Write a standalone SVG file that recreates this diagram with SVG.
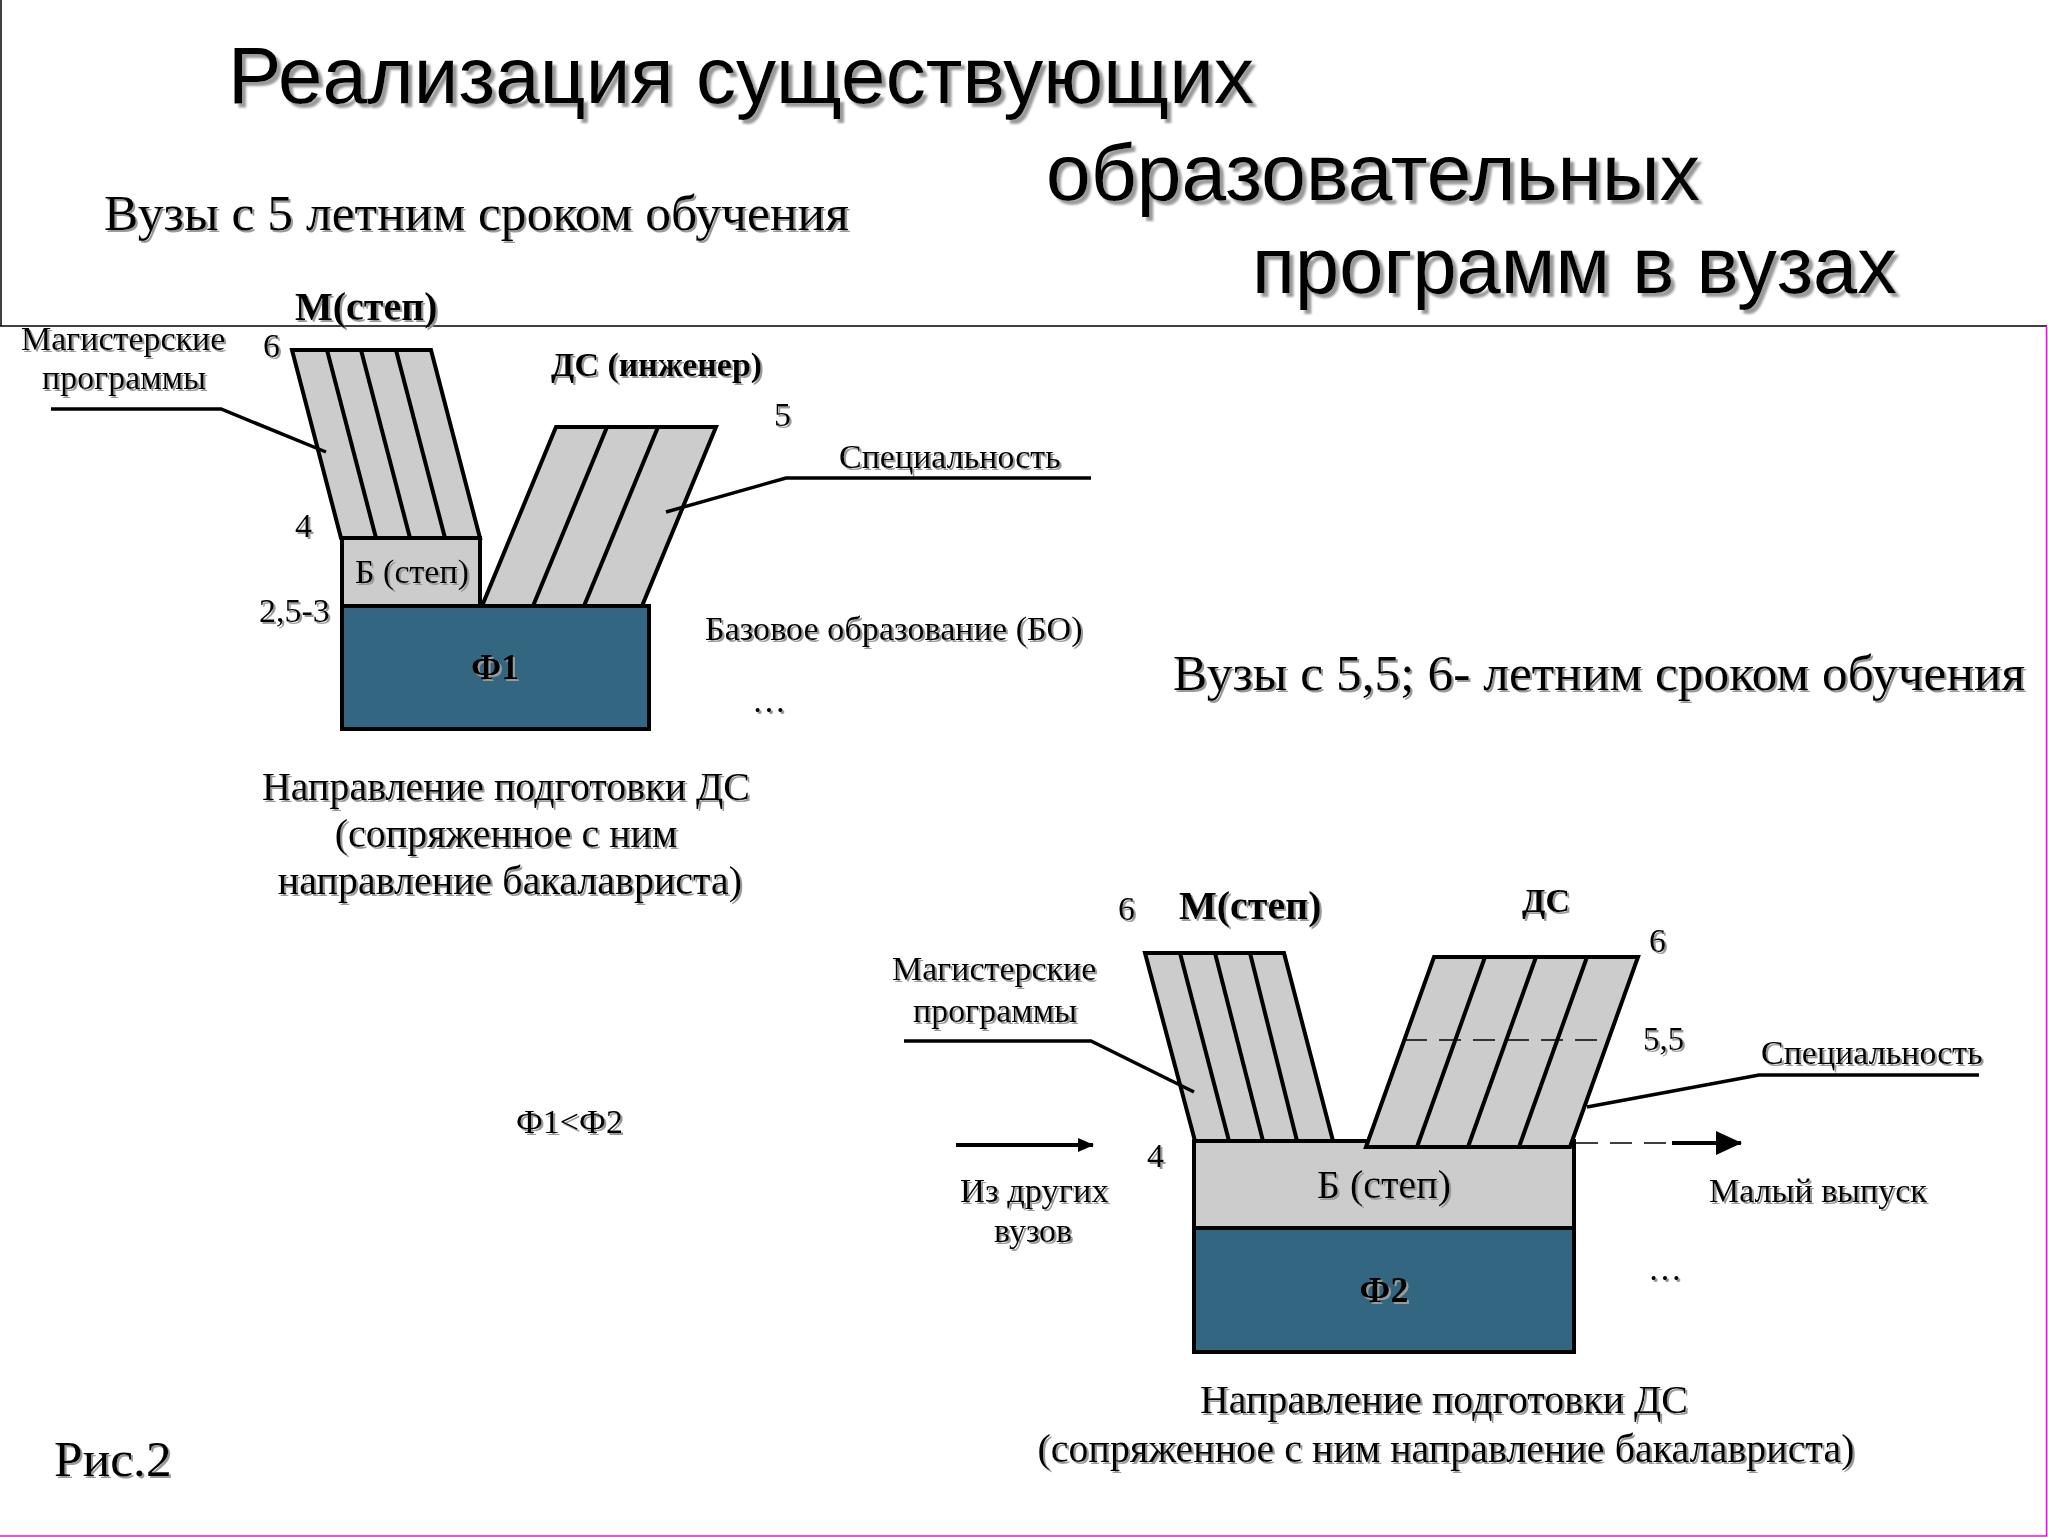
<svg xmlns="http://www.w3.org/2000/svg" width="2048" height="1537" viewBox="0 0 2048 1537">
<defs>
<filter id="sh" x="-5%" y="-20%" width="115%" height="150%">
<feDropShadow dx="2" dy="2" stdDeviation="0.6" flood-color="#9a9a9a" flood-opacity="1"/>
</filter>
<filter id="shT" x="-5%" y="-20%" width="115%" height="150%">
<feDropShadow dx="4" dy="4" stdDeviation="0.8" flood-color="#9a9a9a" flood-opacity="1"/>
</filter>
<marker id="ahS" viewBox="0 0 16 14" refX="15" refY="7" markerWidth="16" markerHeight="14" markerUnits="userSpaceOnUse" orient="auto">
<path d="M0,0 L16,7 L0,14 Z" fill="#000"/>
</marker>
<marker id="ahL" viewBox="0 0 26 24" refX="25" refY="12" markerWidth="26" markerHeight="24" markerUnits="userSpaceOnUse" orient="auto">
<path d="M0,0 L26,12 L0,24 Z" fill="#000"/>
</marker>
</defs>
<style>
.bar{fill:#cccccc;stroke:#000;stroke-width:4;stroke-linejoin:miter}
.base{fill:#336680;stroke:#000;stroke-width:4}
.div{stroke:#000;stroke-width:4;fill:none}
.lead{stroke:#000;stroke-width:3.5;fill:none}
.dash{stroke:#000;stroke-width:1.6;fill:none;stroke-dasharray:22 12}
.t{font-family:"Liberation Serif","Times New Roman",serif;fill:#000;filter:url(#sh)}
.b{font-weight:bold}
.title{font-family:"Liberation Sans",Arial,sans-serif;font-size:80px;fill:#000;filter:url(#shT)}
</style>
<rect x="0" y="0" width="2048" height="1537" fill="#fff"/>

<g id="frame">
<line x1="1" y1="0" x2="1" y2="326" stroke="#000" stroke-width="1.5"/>
<line x1="0" y1="326" x2="2047" y2="326" stroke="#000" stroke-width="1.5"/>
<line x1="2046.5" y1="326" x2="2046.5" y2="1536" stroke="#ff00ff" stroke-width="1.5"/>
<line x1="0" y1="1536" x2="2047" y2="1536" stroke="#ff00ff" stroke-width="1.5"/>
</g>

<g id="title">
<text class="title" x="228" y="103" textLength="1026" lengthAdjust="spacingAndGlyphs">Реализация существующих</text>
<text class="title" x="1046" y="200" textLength="654" lengthAdjust="spacingAndGlyphs">образовательных</text>
<text class="title" x="1252" y="293" textLength="645" lengthAdjust="spacingAndGlyphs">программ в вузах</text>
</g>

<g id="subtitle-left"><text class="t" x="104" y="230" font-size="51.6">Вузы с 5 летним сроком обучения</text></g>
<g id="subtitle-right"><text class="t" x="1173" y="690" font-size="51.5">Вузы с 5,5; 6- летним сроком обучения</text></g>

<!-- Left diagram -->
<g id="L-master">
<polygon class="bar" points="292,350 431,350 480,538 341,538"/>
<line class="div" x1="327" y1="350" x2="376" y2="538"/>
<line class="div" x1="361" y1="350" x2="410" y2="538"/>
<line class="div" x1="396" y1="350" x2="445" y2="538"/>
</g>
<g id="L-bach">
<rect class="bar" x="342" y="538" width="138" height="68"/>
<text class="t" x="412" y="583" font-size="34" text-anchor="middle">Б (степ)</text>
</g>
<g id="L-ds">
<polygon class="bar" points="482,606 556,427 716,427 642,606"/>
<line class="div" x1="607" y1="427" x2="533" y2="606"/>
<line class="div" x1="658" y1="427" x2="584" y2="606"/>
</g>
<g id="L-base">
<rect class="base" x="342" y="606" width="307" height="123"/>
<text class="t b" x="495" y="679" font-size="35" text-anchor="middle">Ф1</text>
</g>
<g id="L-labels">
<text class="t b" x="295" y="320" font-size="40">М(степ)</text>
<text class="t" x="21" y="350" font-size="34">Магистерские</text>
<text class="t" x="42" y="389" font-size="34">программы</text>
<text class="t" x="263" y="357" font-size="34">6</text>
<text class="t b" x="551" y="376" font-size="34">ДС (инженер)</text>
<text class="t" x="774" y="426" font-size="34">5</text>
<text class="t" x="839" y="468" font-size="34">Специальность</text>
<text class="t" x="295" y="537" font-size="34">4</text>
<text class="t" x="259" y="622" font-size="34">2,5-3</text>
<text class="t" x="705" y="640" font-size="34.2">Базовое образование (БО)</text>
<text class="t" x="752" y="712" font-size="34">…</text>
<text class="t" x="506" y="800" font-size="40" text-anchor="middle">Направление подготовки ДС</text>
<text class="t" x="506" y="847" font-size="40" text-anchor="middle">(сопряженное с ним</text>
<text class="t" x="510" y="894" font-size="40" text-anchor="middle">направление бакалавриста)</text>
</g>

<g id="compare"><text class="t" x="516" y="1133" font-size="34">Ф1&lt;Ф2</text></g>
<g id="fig"><text class="t" x="54" y="1476" font-size="51.5">Рис.2</text></g>

<!-- Right diagram -->
<g id="R-master">
<polygon class="bar" points="1145,953 1284,953 1333,1141 1195,1141"/>
<line class="div" x1="1180" y1="953" x2="1229" y2="1141"/>
<line class="div" x1="1215" y1="953" x2="1263" y2="1141"/>
<line class="div" x1="1250" y1="953" x2="1297" y2="1141"/>
</g>
<g id="R-bach">
<rect class="bar" x="1194" y="1141" width="380" height="87"/>
</g>
<g id="R-ds">
<polygon class="bar" points="1366,1147 1434,957 1638,957 1570,1147"/>
<line class="div" x1="1485" y1="957" x2="1417" y2="1147"/>
<line class="div" x1="1536" y1="957" x2="1468" y2="1147"/>
<line class="div" x1="1587" y1="957" x2="1519" y2="1147"/>
<line class="dash" x1="1405" y1="1040" x2="1606" y2="1040"/>
</g>
<g id="R-bach-label">
<text class="t" x="1384" y="1198" font-size="40" text-anchor="middle">Б (степ)</text>
</g>
<g id="R-base">
<rect class="base" x="1194" y="1228" width="380" height="124"/>
<text class="t b" x="1384" y="1302" font-size="36" text-anchor="middle">Ф2</text>
</g>
<g id="R-labels">
<text class="t" x="1118" y="920" font-size="34">6</text>
<text class="t b" x="1179" y="919" font-size="40">М(степ)</text>
<text class="t b" x="1522" y="912" font-size="34">ДС</text>
<text class="t" x="1649" y="952" font-size="34">6</text>
<text class="t" x="892" y="980" font-size="34">Магистерские</text>
<text class="t" x="913" y="1022" font-size="34">программы</text>
<text class="t" x="1643" y="1050" font-size="33">5,5</text>
<text class="t" x="1761" y="1064" font-size="34">Специальность</text>
<text class="t" x="1147" y="1167" font-size="34">4</text>
<text class="t" x="960" y="1202" font-size="34.5">Из других</text>
<text class="t" x="994" y="1242" font-size="34">вузов</text>
<text class="t" x="1709" y="1202" font-size="34">Малый выпуск</text>
<text class="t" x="1648" y="1280" font-size="34">…</text>
<text class="t" x="1444" y="1413" font-size="40" text-anchor="middle">Направление подготовки ДС</text>
<text class="t" x="1446" y="1462" font-size="40" text-anchor="middle">(сопряженное с ним направление бакалавриста)</text>
</g>

<g id="connectors">
<polyline class="lead" points="51,409 221,409 326,452"/>
<polyline class="lead" points="666,512 786,478 1091,478"/>
<polyline class="lead" points="904,1041 1091,1041 1194,1092"/>
<polyline class="lead" points="1587,1107 1759,1075 1979,1075"/>
<line x1="956" y1="1145" x2="1093" y2="1145" stroke="#000" stroke-width="4" marker-end="url(#ahS)"/>
<line class="dash" x1="1576" y1="1143" x2="1672" y2="1143"/>
<line x1="1672" y1="1143" x2="1741" y2="1143" stroke="#000" stroke-width="4" marker-end="url(#ahL)"/>
</g>
</svg>
